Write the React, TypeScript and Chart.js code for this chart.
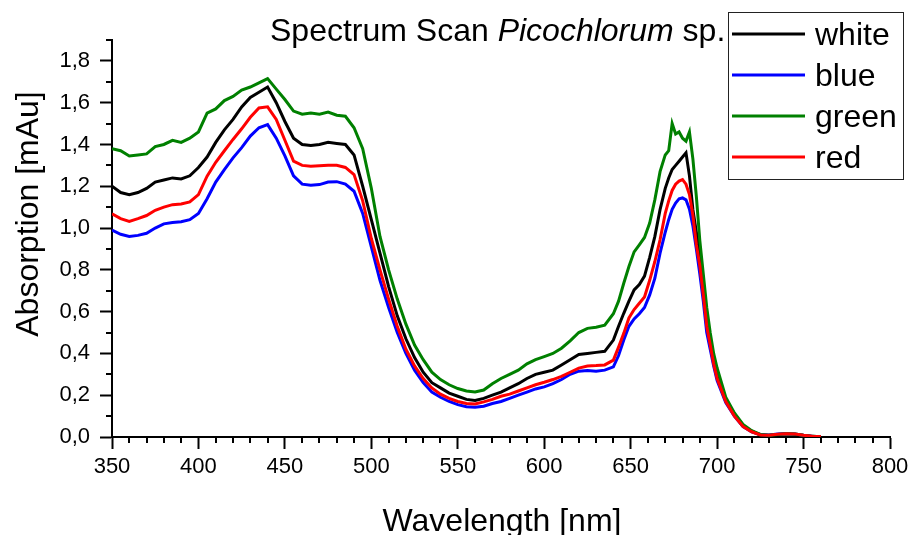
import React, { useEffect, useRef } from "react";
import { Chart, registerables } from "chart.js";

Chart.register(...registerables);

// ---- data ----
const wavelengths = [
  350, 355, 360, 365, 370, 375, 380, 385, 390, 395,
  400, 405, 410, 415, 420, 425, 430, 435, 440, 445,
  450, 455, 460, 465, 470, 475, 480, 485, 490, 495,
  500, 505, 510, 515, 520, 525, 530, 535, 540, 545,
  550, 555, 560, 565, 570, 575, 580, 585, 590, 595,
  600, 605, 610, 615, 620, 625, 630, 635, 640,
  643, 646, 649, 652, 655, 658, 661, 664, 667, 670,
  672, 674, 676, 678, 680, 682, 684, 686, 688, 690, 692, 694, 696, 698, 700,
  705, 710, 715, 720, 725, 730, 735, 740, 745, 750, 755, 760,
];

const whiteSeries = [
  1.2, 1.17, 1.16, 1.17, 1.19, 1.22, 1.23, 1.24, 1.235, 1.25,
  1.29, 1.34, 1.41, 1.47, 1.52, 1.58, 1.625, 1.65, 1.675, 1.6,
  1.51, 1.43, 1.4, 1.395, 1.4, 1.41, 1.405, 1.4, 1.35, 1.2,
  1.04, 0.88, 0.72, 0.58, 0.47, 0.38, 0.31, 0.26, 0.235, 0.21,
  0.195, 0.18, 0.175, 0.185, 0.2, 0.215, 0.235, 0.255, 0.28, 0.3,
  0.31, 0.32, 0.345, 0.37, 0.395, 0.4, 0.405, 0.41, 0.464,
  0.53, 0.592, 0.65, 0.704, 0.73, 0.77, 0.86, 0.96, 1.088, 1.19,
  1.24, 1.28, 1.3, 1.32, 1.34, 1.36, 1.25, 1.088, 0.98, 0.88, 0.73, 0.576, 0.47, 0.37, 0.3,
  0.18, 0.11, 0.055, 0.028, 0.01, 0.007, 0.012, 0.015, 0.013, 0.007, 0.003, 0.001,
];

const blueSeries = [
  0.99, 0.97, 0.96, 0.965, 0.975, 1.0, 1.02, 1.027, 1.03, 1.04,
  1.07, 1.14, 1.22, 1.28, 1.336, 1.385, 1.44, 1.48, 1.495, 1.43,
  1.345, 1.25, 1.21, 1.205, 1.208, 1.22, 1.222, 1.21, 1.176, 1.07,
  0.91, 0.75, 0.62, 0.5, 0.4, 0.32, 0.26, 0.215, 0.19, 0.17,
  0.155, 0.145, 0.142, 0.147, 0.16, 0.17, 0.185, 0.2, 0.215, 0.23,
  0.24, 0.255, 0.275, 0.3, 0.315, 0.318, 0.315, 0.32, 0.336,
  0.39, 0.464, 0.53, 0.565, 0.59, 0.62, 0.68, 0.76, 0.88, 0.98,
  1.04, 1.09, 1.12, 1.14, 1.144, 1.135, 1.09, 1.01, 0.9, 0.78, 0.65, 0.5, 0.42, 0.34, 0.27,
  0.165, 0.1, 0.05, 0.025, 0.012, 0.01, 0.014, 0.016, 0.014, 0.008, 0.004, 0.002,
];

const greenSeries = [
  1.38, 1.37, 1.345, 1.35, 1.355, 1.39, 1.4, 1.42, 1.41, 1.43,
  1.46, 1.55, 1.57, 1.61, 1.63, 1.66, 1.675, 1.695, 1.715, 1.665,
  1.615, 1.56, 1.545, 1.55, 1.545, 1.555, 1.54, 1.535, 1.48, 1.38,
  1.19, 0.96, 0.8, 0.66, 0.54, 0.44, 0.37, 0.31, 0.275, 0.25,
  0.232, 0.22, 0.215, 0.225, 0.255, 0.28, 0.3, 0.32, 0.35, 0.37,
  0.385, 0.4, 0.425, 0.46, 0.5, 0.52, 0.525, 0.535, 0.59,
  0.65, 0.736, 0.816, 0.886, 0.92, 0.955, 1.024, 1.136, 1.27, 1.35,
  1.37, 1.5, 1.45, 1.46, 1.43, 1.416, 1.46, 1.33, 1.15, 0.94, 0.78, 0.62, 0.5, 0.4, 0.33,
  0.19, 0.115, 0.06, 0.03, 0.012, 0.008, 0.012, 0.016, 0.014, 0.008, 0.003, 0.001,
];

const redSeries = [
  1.068, 1.045, 1.032, 1.045, 1.06, 1.085, 1.1, 1.112, 1.115, 1.125,
  1.16, 1.248, 1.315, 1.37, 1.424, 1.475, 1.53, 1.575, 1.58, 1.52,
  1.42, 1.32, 1.3, 1.296, 1.298, 1.3, 1.3, 1.29, 1.256, 1.13,
  0.95, 0.8, 0.66, 0.53, 0.42, 0.34, 0.28, 0.235, 0.205, 0.185,
  0.17, 0.16, 0.158, 0.168, 0.18, 0.195, 0.205, 0.22, 0.235, 0.25,
  0.262, 0.275, 0.29, 0.31, 0.33, 0.34, 0.342, 0.345, 0.368,
  0.43, 0.496, 0.57, 0.61, 0.64, 0.67, 0.75, 0.84, 0.944, 1.07,
  1.13, 1.18, 1.21, 1.225, 1.232, 1.21, 1.16, 1.06, 0.92, 0.82, 0.68, 0.53, 0.44, 0.35, 0.28,
  0.17, 0.1, 0.05, 0.025, 0.01, 0.008, 0.013, 0.016, 0.014, 0.008, 0.004, 0.002,
];

const seriesNames = ["white", "blue", "green", "red"];
const seriesColors = ["#000000", "#0000FF", "#008000", "#FF0000"];
const seriesValues = [whiteSeries, blueSeries, greenSeries, redSeries];
const seriesOrder = [3, 2, 1, 0];

const titleParts = ["Spectrum Scan ", "Picochlorum", " sp."];
const xAxisTitle = "Wavelength [nm]";
const yAxisTitle = "Absorption [mAu]";
const xRange = [350, 800];
const yRange = [0, 1.9];
const xMajorStep = 50;
const xMinorStep = 10;
const yMajorStep = 0.2;
const yMinorStep = 0.1;

const FONT = '"Liberation Sans", Arial, Helvetica, sans-serif';

const decorPlugin = {
  id: "decor",
  afterDraw(chart: any) {
    const ctx = chart.ctx as CanvasRenderingContext2D;
    const xs = chart.scales.x;
    const ys = chart.scales.y;
    ctx.save();
    ctx.strokeStyle = "#000";
    ctx.lineWidth = 2;
    ctx.lineCap = "butt";
    // minor ticks
    ctx.beginPath();
    for (let v = xRange[0]; v <= xRange[1] + 1e-6; v += xMinorStep) {
      if (Math.abs(v % xMajorStep) < 1e-6) continue;
      const px = Math.round(xs.getPixelForValue(v));
      ctx.moveTo(px, ys.bottom);
      ctx.lineTo(px, ys.bottom + 6);
    }
    for (let k = 1; k <= 19; k += 2) {
      const v = k * yMinorStep;
      if (v > yRange[1] + 1e-6) break;
      const py = Math.round(ys.getPixelForValue(v));
      ctx.moveTo(xs.left, py);
      ctx.lineTo(xs.left - 6, py);
    }
    ctx.stroke();

    ctx.fillStyle = "#000";
    // axis titles
    ctx.font = `32px ${FONT}`;
    ctx.textAlign = "center";
    ctx.textBaseline = "alphabetic";
    ctx.fillText(xAxisTitle, 502, 531);
    ctx.save();
    ctx.translate(38, 214);
    ctx.rotate(-Math.PI / 2);
    ctx.fillText(yAxisTitle, 0, 0);
    ctx.restore();

    // chart title (mixed style)
    ctx.textAlign = "left";
    let tx = 270;
    titleParts.forEach((part, i) => {
      ctx.font = i === 1 ? `italic 32px ${FONT}` : `32px ${FONT}`;
      ctx.fillText(part, tx, 41);
      tx += ctx.measureText(part).width;
    });

    // legend
    const bx = 728.5, by = 12.5, bw = 175, bh = 167;
    ctx.fillStyle = "#fff";
    ctx.fillRect(bx, by, bw, bh);
    ctx.strokeStyle = "#222";
    ctx.lineWidth = 1;
    ctx.strokeRect(bx, by, bw, bh);
    ctx.font = `32px ${FONT}`;
    chart.data.datasets.forEach((ds: any, i: number) => {
      const ly = 34 + i * 41;
      ctx.strokeStyle = ds.borderColor;
      ctx.lineWidth = 3;
      ctx.beginPath();
      ctx.moveTo(732, ly);
      ctx.lineTo(805, ly);
      ctx.stroke();
      ctx.fillStyle = "#000";
      ctx.fillText(ds.label, 815, ly + 11);
    });
    ctx.restore();
  },
};

export default function App() {
  const canvasRef = useRef<HTMLCanvasElement | null>(null);

  useEffect(() => {
    if (!canvasRef.current) return;
    const datasets = seriesNames.map((name, si) => ({
      label: name,
      data: wavelengths.map((w, i) => ({ x: w, y: seriesValues[si][i] })),
      borderColor: seriesColors[si],
      backgroundColor: seriesColors[si],
      borderWidth: 3,
      pointRadius: 0,
      tension: 0,
      fill: false,
      order: seriesOrder[si],
    }));
    const chart = new Chart(canvasRef.current, {
      type: "line",
      data: { datasets },
      options: {
        responsive: false,
        animation: false,
        layout: { padding: { left: 0, right: 24, top: 40, bottom: 0 } },
        plugins: {
          legend: { display: false },
          title: { display: false },
          tooltip: { enabled: false },
        },
        scales: {
          x: {
            type: "linear",
            min: xRange[0],
            max: xRange[1],
            afterFit: (s: any) => {
              s.height = 98;
            },
            ticks: {
              stepSize: xMajorStep,
              includeBounds: false,
              color: "#000",
              font: { family: FONT, size: 22 },
              padding: 5,
              maxRotation: 0,
              autoSkip: false,
            },
            grid: {
              display: true,
              drawOnChartArea: false,
              drawTicks: true,
              tickLength: 12,
              tickWidth: 2,
              tickColor: "#000",
            },
            border: { display: true, color: "#000", width: 2 },
          },
          y: {
            type: "linear",
            min: yRange[0],
            max: yRange[1],
            afterFit: (s: any) => {
              s.width = 112;
            },
            ticks: {
              stepSize: yMajorStep,
              includeBounds: false,
              color: "#000",
              font: { family: FONT, size: 22 },
              padding: 10,
              autoSkip: false,
              callback: (v: any) => Number(v).toFixed(1).replace(".", ","),
            },
            grid: {
              display: true,
              drawOnChartArea: false,
              drawTicks: true,
              tickLength: 12,
              tickWidth: 2,
              tickColor: "#000",
            },
            border: { display: true, color: "#000", width: 2 },
          },
        },
      },
      plugins: [decorPlugin],
    } as any);
    return () => chart.destroy();
  }, []);

  return (
    <div style={{ position: "fixed", left: 0, top: 0, width: 914, height: 535, background: "#fff" }}>
      <canvas ref={canvasRef} width={914} height={535} style={{ display: "block" }} />
    </div>
  );
}
